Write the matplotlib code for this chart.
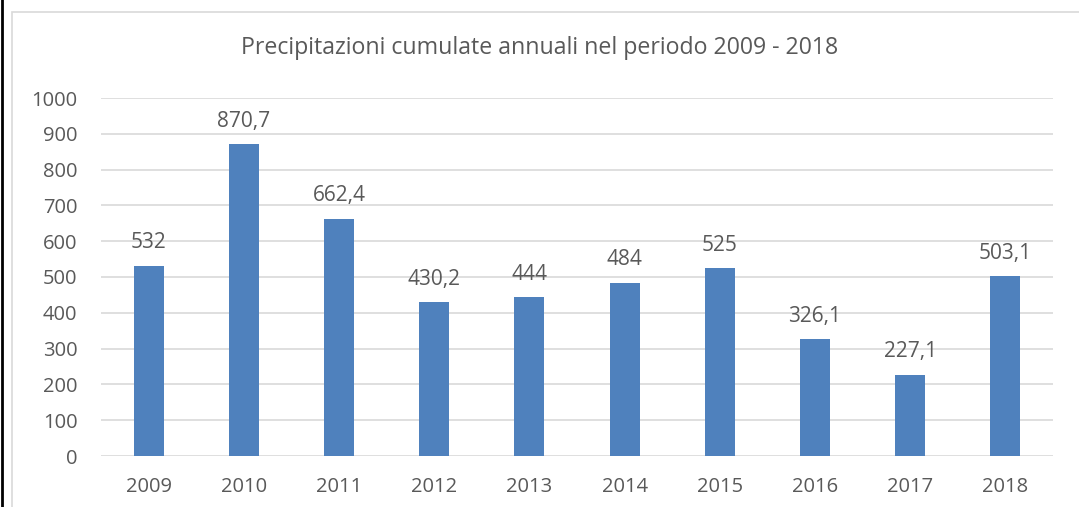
import matplotlib.pyplot as plt
from matplotlib.patches import Rectangle
from matplotlib.lines import Line2D

anni = ['2009', '2010', '2011', '2012', '2013', '2014', '2015', '2016', '2017', '2018']
precipitazioni = [532, 870.7, 662.4, 430.2, 444, 484, 525, 326.1, 227.1, 503.1]
etichette = ['532', '870,7', '662,4', '430,2', '444', '484', '525', '326,1', '227,1', '503,1']

plt.rcParams['font.family'] = ['Open Sans', 'DejaVu Sans']
grigio = '#595959'

fig = plt.figure(figsize=(10.79, 5.07), dpi=100)
ax = fig.add_axes([101 / 1079, 51 / 507, 952 / 1079, 358 / 507])

x = range(len(anni))
ax.bar(x, precipitazioni, width=0.315, color='#4F81BD', zorder=3)
for xi, v, t in zip(x, precipitazioni, etichette):
    ax.annotate(t, (xi, v), xytext=(0, 12.5), textcoords='offset points',
                ha='center', va='baseline', fontsize=15, color=grigio)

ax.set_xlim(-0.5, len(anni) - 0.5)
ax.set_ylim(0, 1000)
ax.set_yticks(range(0, 1001, 100))
ax.set_xticks(list(x))
ax.set_xticklabels(anni)
ax.tick_params(axis='both', length=0, labelsize=14.5, labelcolor=grigio)
ax.tick_params(axis='y', pad=17)
ax.tick_params(axis='x', pad=15)
ax.grid(axis='y', color='#D9D9D9', linewidth=1.2, zorder=0)
for s in ax.spines.values():
    s.set_visible(False)

fig.text(0.5, 1 - 48 / 507, 'Precipitazioni cumulate annuali nel periodo 2009 - 2018',
         ha='center', va='center', fontsize=16.7, color=grigio)

# bordo area grafico e linea nera a sinistra
fig.patches.append(Rectangle((12 / 1079, -0.1), 1.2, 1 - 12 / 507 + 0.1,
                             transform=fig.transFigure, fill=False,
                             edgecolor='#D9D9D9', linewidth=1.2))
fig.lines.append(Line2D([1.5 / 1079, 1.5 / 1079], [0, 1], transform=fig.transFigure,
                        color='black', linewidth=2))

plt.savefig('out.png', dpi=100)
